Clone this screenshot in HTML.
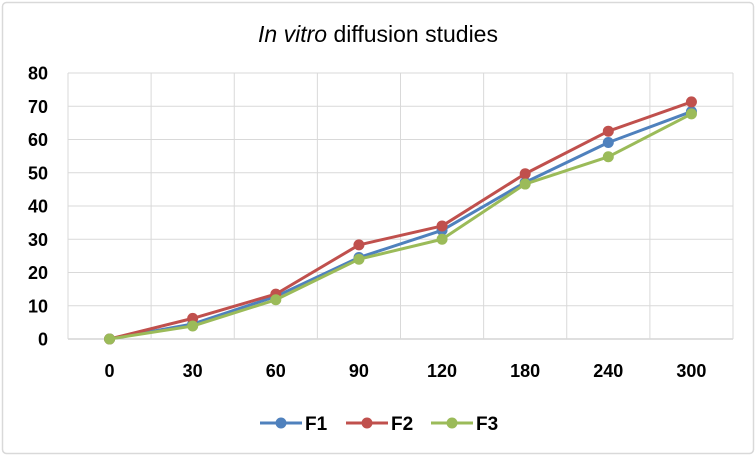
<!DOCTYPE html>
<html><head><meta charset="utf-8"><style>
body{margin:0;background:#fff}
svg{display:block;font-family:"Liberation Sans",Arial,sans-serif}
</style></head><body>
<svg width="756" height="456" viewBox="0 0 756 456">
<rect x="2.5" y="2.5" width="751" height="451" rx="4" fill="#fff" stroke="#d9d9d9" stroke-width="1.5"/>
<text x="378" y="42" text-anchor="middle" font-size="23" fill="#000"><tspan font-style="italic">In vitro</tspan> diffusion studies</text>
<g id="grid"></g><g id="series"></g><g id="legend"></g>
</svg>
<script>
const categories=["0","30","60","90","120","180","240","300"];
const yTicks=[0,10,20,30,40,50,60,70,80];
const f1=[0,4.5,12.8,24.5,32.7,47.1,59.1,68.4];
const f2=[0,6.2,13.5,28.3,34,49.7,62.5,71.3];
const f3=[0,3.9,11.8,24,30,46.6,54.8,67.7];
const seriesNames=["F1","F2","F3"];
const seriesColors=["#4f81bd","#c0504d","#9bbb59"];
const seriesData=[f1,f2,f3];
const NS="http://www.w3.org/2000/svg";
const L=68,R=733,T=73,B=339,yMax=80;
const band=(R-L)/categories.length;
const xS=i=>L+band*(i+0.5);
const yS=v=>B-(v/yMax)*(B-T);
function mk(tag,attrs,parent){const e=document.createElementNS(NS,tag);for(const k in attrs)e.setAttribute(k,attrs[k]);parent.appendChild(e);return e;}
const g=document.getElementById('grid');
yTicks.forEach(v=>{
 const l=mk('line',{x1:L,x2:R,y1:yS(v),y2:yS(v),stroke:v===0?'#bfbfbf':'#d9d9d9','stroke-width':1},g);
 
 
 const t=mk('text',{x:48,y:yS(v)+6.5,'text-anchor':'end','font-size':18,'font-weight':'bold'},g);
 t.textContent=v;
 
 
});
for(let i=0;i<=categories.length;i++){
 const l=mk('line',{x1:L+band*i,x2:L+band*i,y1:T,y2:B,stroke:'#d9d9d9','stroke-width':1},g);
 
 
}
categories.forEach((c,i)=>{
 const t=mk('text',{x:xS(i),y:377,'text-anchor':'middle','font-size':18,'font-weight':'bold'},g);
 t.textContent=c;
 
 
});
const s=document.getElementById('series');
seriesData.forEach((d,k)=>{
 const p=mk('polyline',{points:d.map((v,i)=>xS(i)+','+yS(v)).join(' '),fill:'none',stroke:seriesColors[k],'stroke-width':3,'stroke-linejoin':'round'},s);
 
 
 d.forEach((v,i)=>{
  const c=mk('circle',{cx:xS(i),cy:yS(v),r:5.5,fill:seriesColors[k]},s);
  
  
 });
});
const lg=document.getElementById('legend');
const lx=[260,346,431];
seriesNames.forEach((n,k)=>{
 const gg=mk('g',{},lg);
 
 
 mk('line',{x1:lx[k],x2:lx[k]+42,y1:423,y2:423,stroke:seriesColors[k],'stroke-width':3},gg);
 mk('circle',{cx:lx[k]+21,cy:423,r:5.5,fill:seriesColors[k]},gg);
 const t=mk('text',{x:lx[k]+45,y:430,'font-size':19,'font-weight':'bold'},gg);
 t.textContent=n;
});
</script>
</body></html>
